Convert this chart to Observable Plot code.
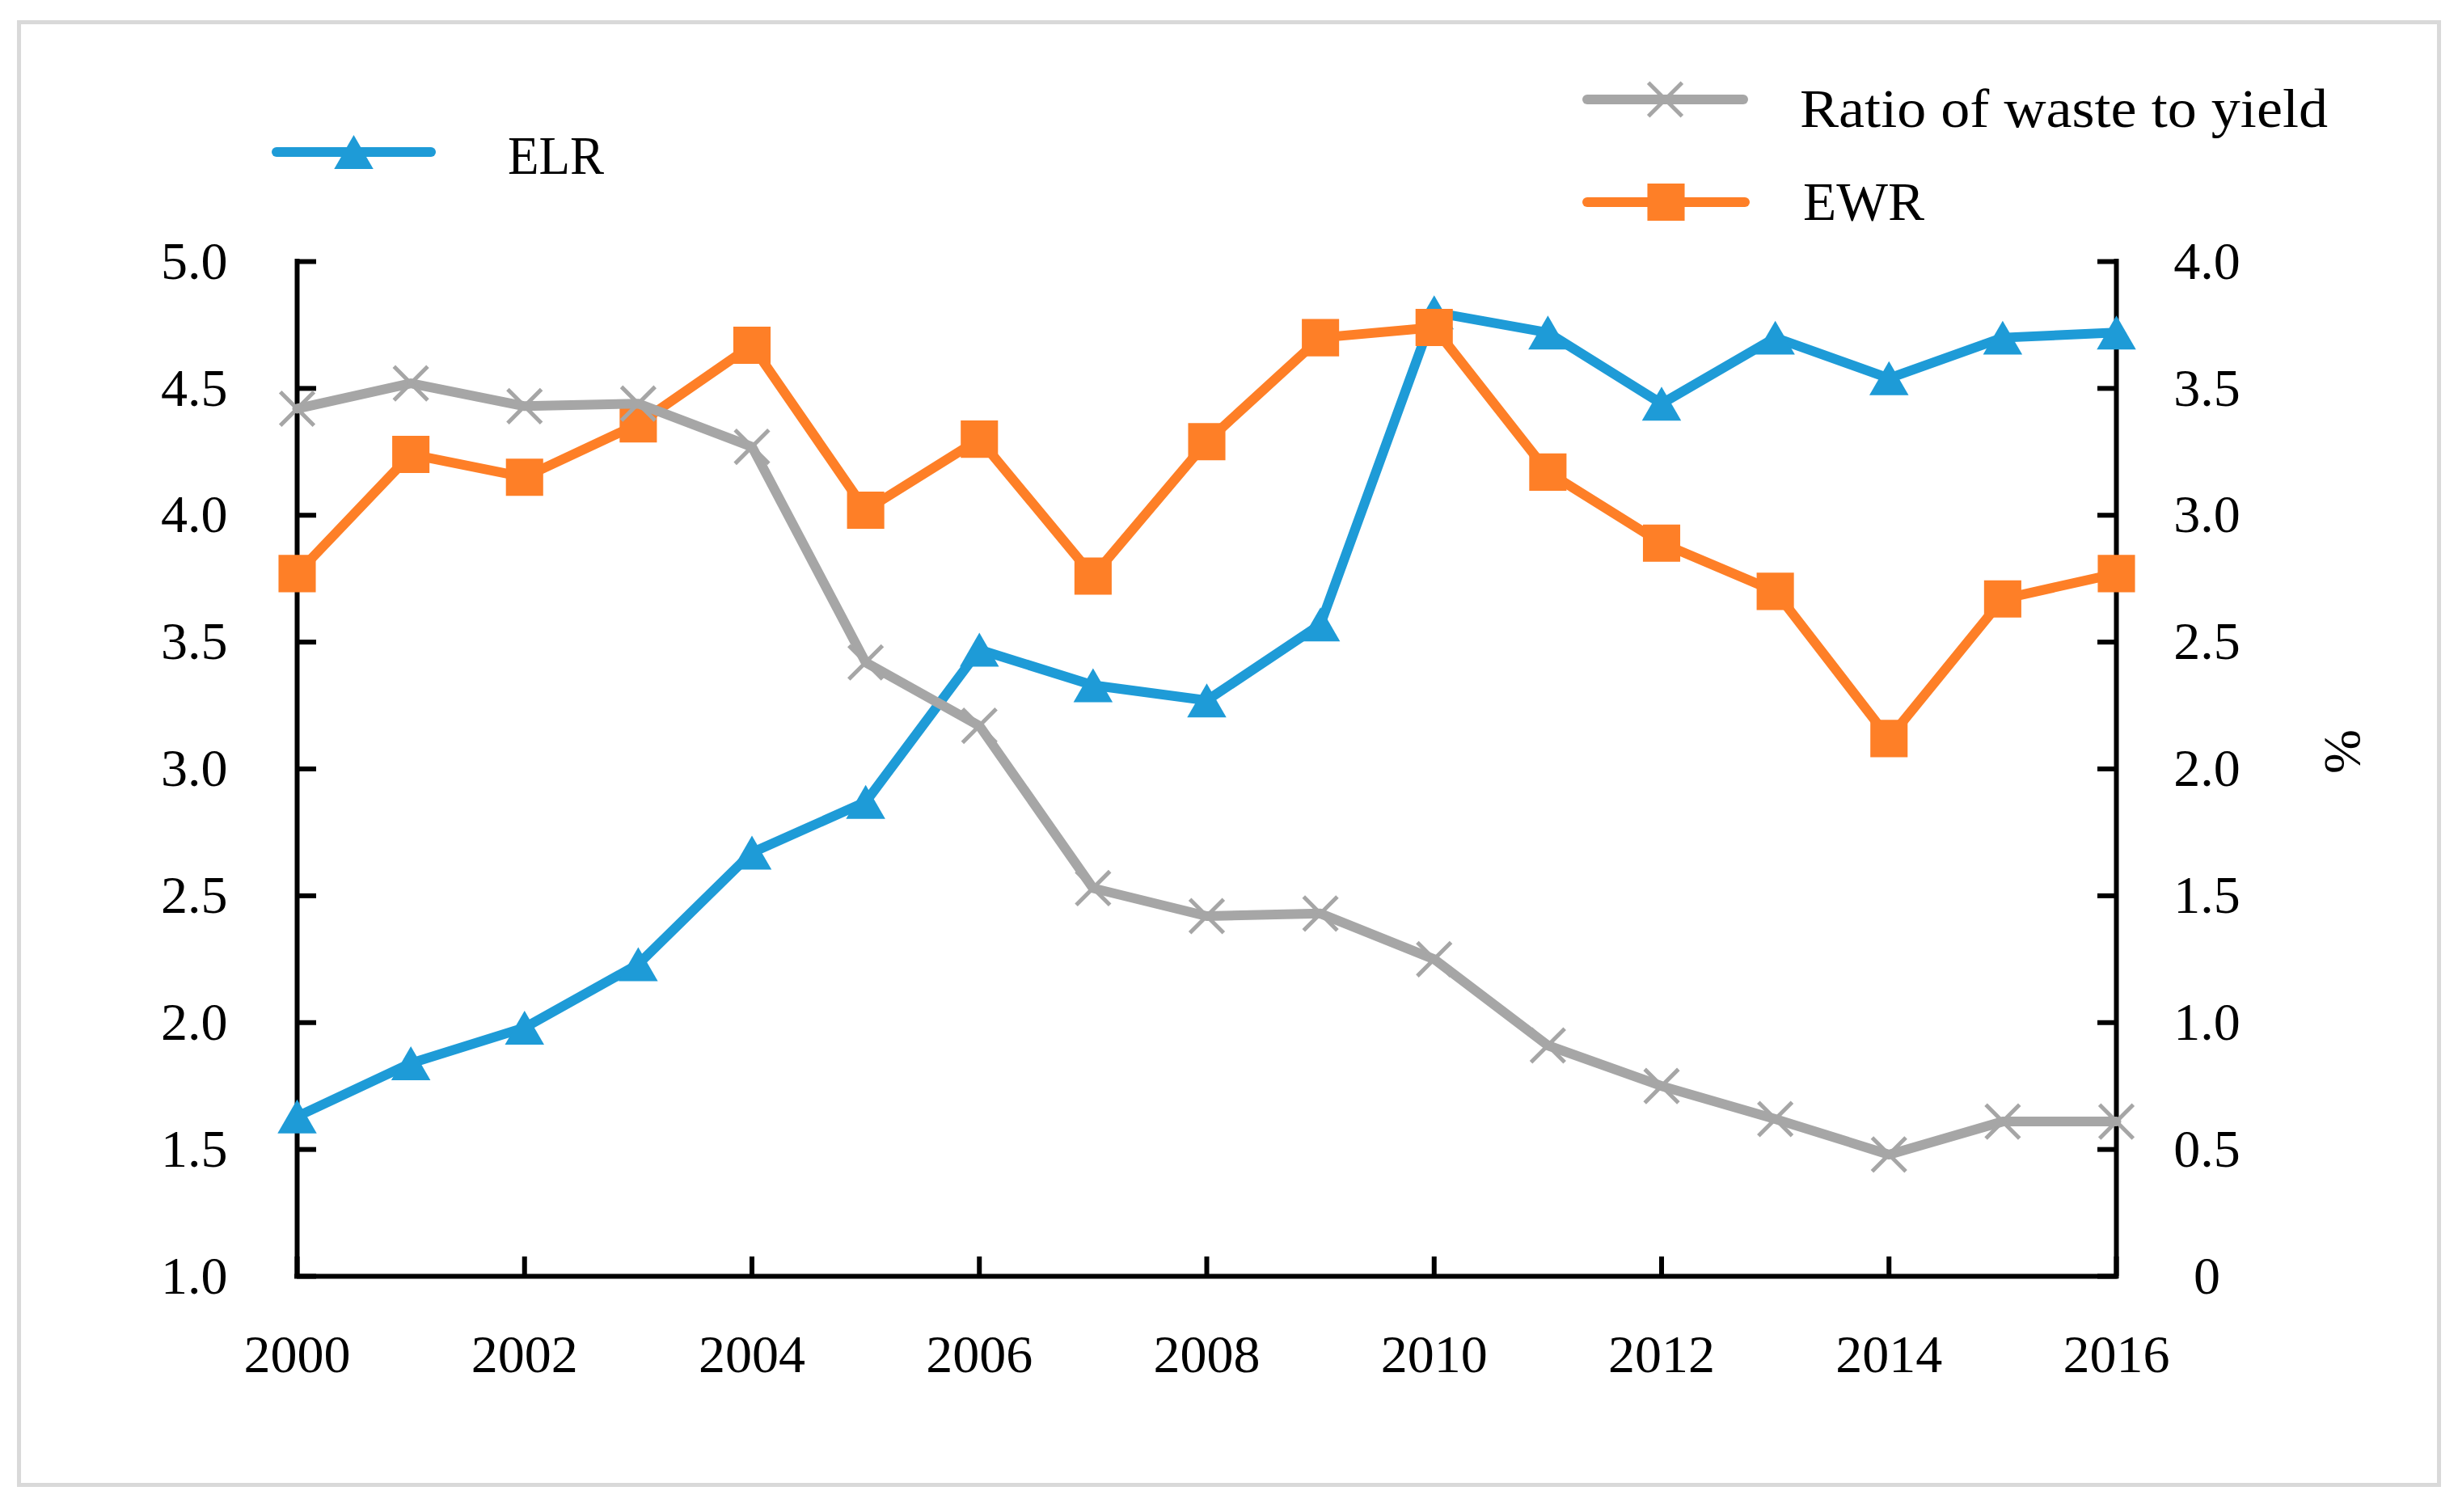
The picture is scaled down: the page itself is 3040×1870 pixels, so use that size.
<!DOCTYPE html>
<html>
<head>
<meta charset="utf-8">
<script src="https://cdn.jsdelivr.net/npm/d3@7"></script>
<script src="https://cdn.jsdelivr.net/npm/@observablehq/plot@0.6"></script>
<style>
  html, body { margin: 0; padding: 0; background: #fff; }
  #wrap { position: relative; width: 3040px; height: 1870px; overflow: hidden; }
  #frame { position: absolute; left: 21px; top: 25px; width: 2998px; height: 1814px;
           border: 5px solid #d9d9d9; box-sizing: border-box; }
  #chart { position: absolute; left: 0; top: 0; }
  #legend { position: absolute; left: 0; top: 0; pointer-events: none; }
</style>
</head>
<body>
<div id="wrap">
  <div id="frame"></div>
  <div id="chart"></div>
  <svg id="legend" width="3040" height="1870"></svg>
</div>
<script>
// ---- data ----
const years = [2000, 2001, 2002, 2003, 2004, 2005, 2006, 2007, 2008, 2009, 2010, 2011, 2012, 2013, 2014, 2015, 2016];
const elr = [1.63, 1.84, 1.98, 2.23, 2.67, 2.87, 3.47, 3.33, 3.27, 3.57, 4.80, 4.72, 4.44, 4.70, 4.54, 4.70, 4.72];
const ewr = [2.77, 3.24, 3.15, 3.36, 3.67, 3.02, 3.30, 2.76, 3.29, 3.70, 3.74, 3.17, 2.89, 2.70, 2.12, 2.67, 2.77];
const wasteRatio = [3.42, 3.52, 3.43, 3.44, 3.27, 2.42, 2.17, 1.53, 1.42, 1.43, 1.25, 0.91, 0.75, 0.62, 0.48, 0.61, 0.61];

const xTicks = [2000, 2002, 2004, 2006, 2008, 2010, 2012, 2014, 2016];
const leftTicks = [1.0, 1.5, 2.0, 2.5, 3.0, 3.5, 4.0, 4.5, 5.0];
const rightTickLabels = ["0", "0.5", "1.0", "1.5", "2.0", "2.5", "3.0", "3.5", "4.0"];
const seriesNames = ["ELR", "Ratio of waste to yield", "EWR"];
const rightAxisLabel = "%";

const colors = { elr: "#1e9bd7", ewr: "#fe7f27", waste: "#a6a6a6" };

// right axis (0..4) shares the left scale (1..5)
const rightOffset = 1;

const elrData = years.map((year, i) => ({ year, v: elr[i] }));
const ewrData = years.map((year, i) => ({ year, v: ewr[i] + rightOffset }));
const wasteData = years.map((year, i) => ({ year, v: wasteRatio[i] + rightOffset }));

const font = "'Liberation Serif', 'Times New Roman', serif";
const TRI_R = 18, SQ_R = 26, X_R = 19, LINE_W = 12;

const chart = Plot.plot({
  width: 3040,
  height: 1870,
  marginLeft: 367,
  marginRight: 423,
  marginTop: 323,
  marginBottom: 292,
  x: { domain: [2000, 2016], label: null },
  y: { domain: [1, 5], label: null },
  style: { fontFamily: font, fontSize: "66px", color: "#000", background: "transparent", overflow: "visible" },
  marks: [
    // axis lines
    Plot.ruleX([2000, 2016], { stroke: "#000", strokeWidth: 6, strokeLinecap: "square" }),
    Plot.ruleY([1], { stroke: "#000", strokeWidth: 6, strokeLinecap: "square" }),
    // inward ticks
    Plot.axisY({ anchor: "left", ticks: leftTicks, tickSize: -24, tickFormat: () => "", strokeWidth: 6 }),
    Plot.axisY({ anchor: "right", ticks: leftTicks, tickSize: -24, tickFormat: () => "", strokeWidth: 6 }),
    Plot.axisX({ anchor: "bottom", ticks: xTicks, tickSize: -24, tickFormat: () => "", strokeWidth: 6 }),
    // labels
    Plot.axisY({ anchor: "left", ticks: leftTicks, tickSize: 0, tickPadding: 86, tickFormat: d3.format(".1f"), fontSize: 66 }),
    Plot.axisY({ anchor: "right", ticks: leftTicks, tickSize: 0, tickPadding: 112, textAnchor: "middle",
                 tickFormat: d => rightTickLabels[leftTicks.indexOf(d)], fontSize: 66 }),
    Plot.axisX({ anchor: "bottom", ticks: xTicks, tickSize: 0, tickPadding: 72, tickFormat: d => String(d), fontSize: 66 }),
    Plot.text([rightAxisLabel], { frameAnchor: "right", dx: 280, dy: 6, rotate: 90, fontSize: 66, fill: "#000" }),
    // ELR
    Plot.line(elrData, { x: "year", y: "v", stroke: colors.elr, strokeWidth: LINE_W, strokeLinejoin: "round", strokeLinecap: "round" }),
    Plot.dot(elrData, { x: "year", y: "v", symbol: "triangle", r: TRI_R, fill: colors.elr, stroke: "none", dy: 7 }),
    // EWR
    Plot.line(ewrData, { x: "year", y: "v", stroke: colors.ewr, strokeWidth: LINE_W, strokeLinejoin: "round", strokeLinecap: "round" }),
    Plot.dot(ewrData, { x: "year", y: "v", symbol: "square", r: SQ_R, fill: colors.ewr, stroke: "none" }),
    // Ratio of waste to yield
    Plot.line(wasteData, { x: "year", y: "v", stroke: colors.waste, strokeWidth: LINE_W, strokeLinejoin: "round", strokeLinecap: "round" }),
    Plot.dot(wasteData, { x: "year", y: "v", symbol: "times", r: X_R, fill: "none", stroke: colors.waste, strokeWidth: 5 })
  ]
});
document.getElementById("chart").appendChild(chart);

// ---- legend ----
const lg = d3.select("#legend");
const legendItems = [
  { name: seriesNames[0], color: colors.elr, sym: d3.symbolTriangle, r: TRI_R, fill: true, x1: 342, x2: 533, y: 188, tx: 628, ty: 215, dy: 7, len: 119 },
  { name: seriesNames[1], color: colors.waste, sym: d3.symbolTimes, r: X_R, fill: false, x1: 1963, x2: 2156, y: 123, tx: 2226, ty: 157, dy: 0, len: 653 },
  { name: seriesNames[2], color: colors.ewr, sym: d3.symbolSquare, r: SQ_R, fill: true, x1: 1963, x2: 2158, y: 250, tx: 2230, ty: 272, dy: 0, len: 150 }
];
for (const it of legendItems) {
  lg.append("line").attr("x1", it.x1).attr("x2", it.x2).attr("y1", it.y).attr("y2", it.y)
    .attr("stroke", it.color).attr("stroke-width", LINE_W).attr("stroke-linecap", "round");
  const cx = (it.x1 + it.x2) / 2;
  lg.append("path").attr("d", d3.symbol(it.sym, it.r * it.r * Math.PI)())
    .attr("transform", `translate(${cx},${it.y + it.dy})`)
    .attr("fill", it.fill ? it.color : "none")
    .attr("stroke", it.fill ? "none" : it.color)
    .attr("stroke-width", it.fill ? 0 : 5);
  lg.append("text").attr("x", it.tx).attr("y", it.ty).text(it.name)
    .attr("font-family", font).attr("font-size", 68).attr("fill", "#000")
    .attr("textLength", it.len).attr("lengthAdjust", "spacingAndGlyphs");
}
</script>
</body>
</html>
